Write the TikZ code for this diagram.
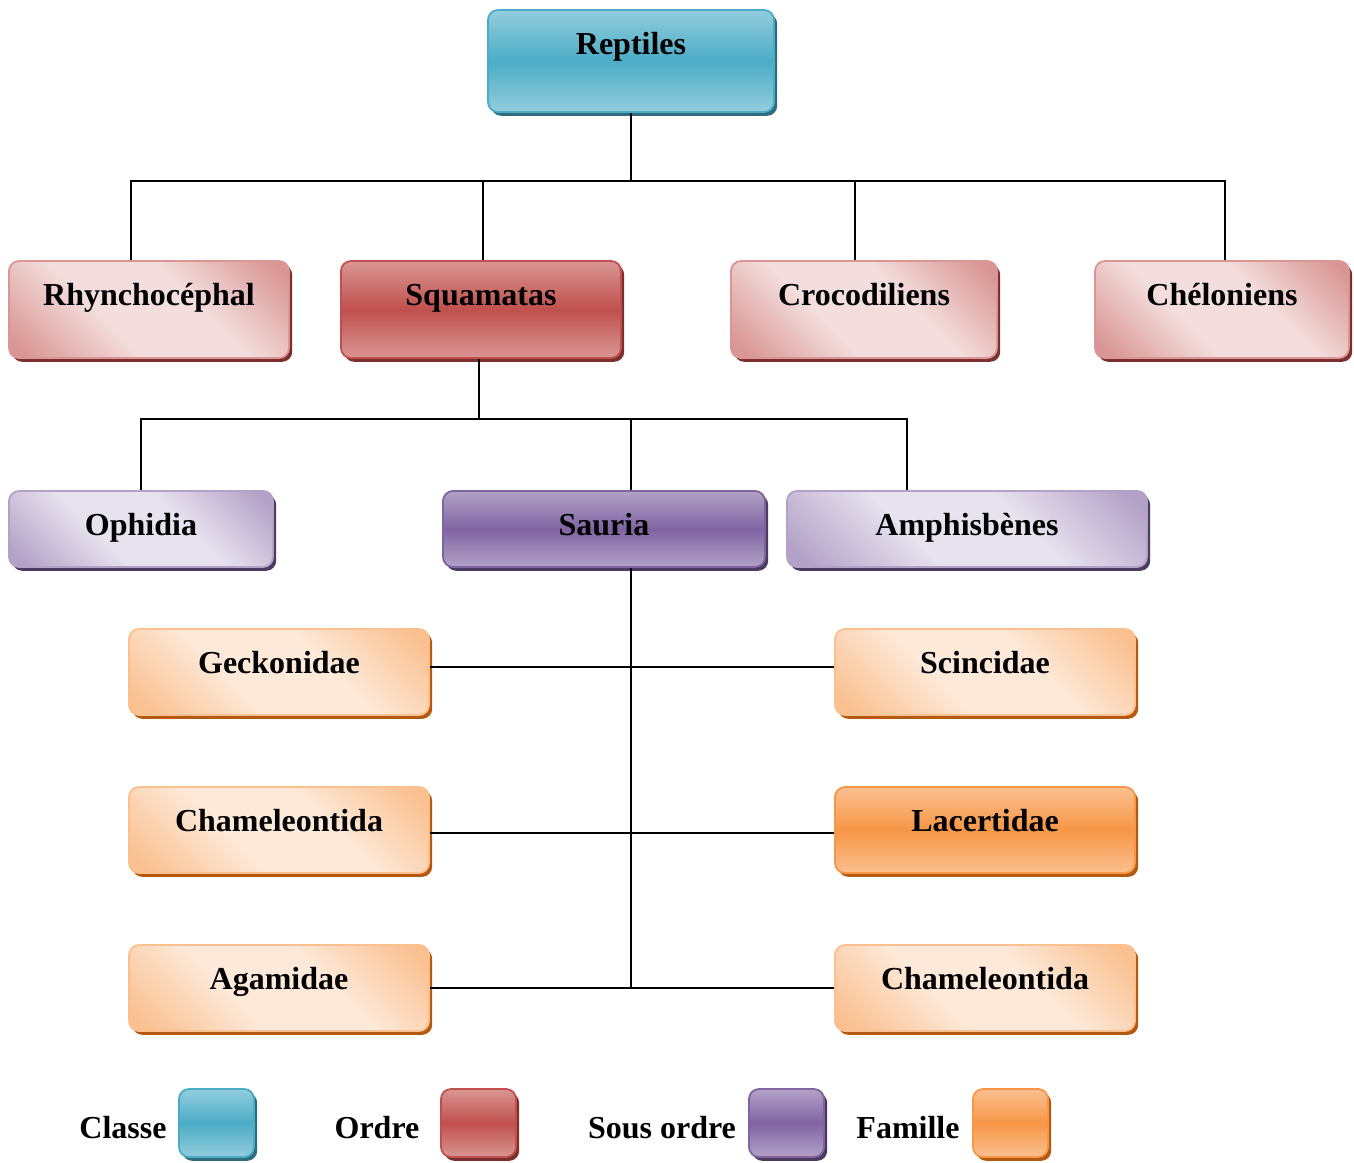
\documentclass[tikz,border=0pt]{standalone}
\usepackage{fontspec}
\setmainfont{Liberation Serif}
\usetikzlibrary{shadows}
\definecolor{classmid}{HTML}{4BACC6}
\definecolor{classlight}{HTML}{93CDDD}
\definecolor{classshadow}{HTML}{2F6C7D}
\definecolor{ordremid}{HTML}{C0504D}
\definecolor{ordrelight}{HTML}{D99694}
\definecolor{ordrepale}{HTML}{F3DEDD}
\definecolor{ordreshadow}{HTML}{7B302E}
\definecolor{sousmid}{HTML}{8064A2}
\definecolor{souslight}{HTML}{B3A2C7}
\definecolor{souspale}{HTML}{E7E2EE}
\definecolor{sousshadow}{HTML}{4B3A62}
\definecolor{famimid}{HTML}{F79646}
\definecolor{famlight}{HTML}{FAC090}
\definecolor{fampale}{HTML}{FDE9D9}
\definecolor{famshadow}{HTML}{B35A10}

% diagonal band: darker corners, pale middle
\pgfdeclareverticalshading{ordreband}{100bp}{color(0bp)=(ordrelight); color(18bp)=(ordrelight); color(40bp)=(ordrepale); color(60bp)=(ordrepale); color(82bp)=(ordrelight); color(100bp)=(ordrelight)}
\pgfdeclareverticalshading{sousband}{100bp}{color(0bp)=(souslight); color(18bp)=(souslight); color(40bp)=(souspale); color(60bp)=(souspale); color(82bp)=(souslight); color(100bp)=(souslight)}
\pgfdeclareverticalshading{famband}{100bp}{color(0bp)=(famlight); color(18bp)=(famlight); color(40bp)=(fampale); color(60bp)=(fampale); color(82bp)=(famlight); color(100bp)=(famlight)}

\begin{document}
\begin{tikzpicture}[
    x=0.5pt, y=-0.5pt,
    font=\fontsize{16}{19}\selectfont\bfseries,
    link/.style={black, line width=0.8pt},
    box/.style={rectangle, rounded corners=5pt, inner sep=0pt, text height=22pt, line width=0.9pt, align=center},
    % full colour boxes: light - mid - light, top to bottom
    classbox/.style={box, draw=classmid, top color=classlight, bottom color=classlight, middle color=classmid,
        drop shadow={shadow xshift=1.6pt, shadow yshift=-1.9pt, fill=classshadow, opacity=1}},
    ordrebox/.style={box, draw=ordremid, top color=ordrelight, bottom color=ordrelight, middle color=ordremid,
        drop shadow={shadow xshift=1.6pt, shadow yshift=-1.9pt, fill=ordreshadow, opacity=1}},
    sousbox/.style={box, draw=sousmid, top color=souslight, bottom color=souslight, middle color=sousmid,
        drop shadow={shadow xshift=1.6pt, shadow yshift=-1.9pt, fill=sousshadow, opacity=1}},
    fambox/.style={box, draw=famimid, top color=famlight, bottom color=famlight, middle color=famimid,
        drop shadow={shadow xshift=1.6pt, shadow yshift=-1.9pt, fill=famshadow, opacity=1}},
    % pale boxes: diagonal light band
    ordrepalebox/.style={box, draw=ordrelight, shade, shading=ordreband, shading angle=-45,
        drop shadow={shadow xshift=1.6pt, shadow yshift=-1.9pt, fill=ordreshadow, opacity=1}},
    souspalebox/.style={box, draw=souslight, shade, shading=sousband, shading angle=-45,
        drop shadow={shadow xshift=1.6pt, shadow yshift=-1.9pt, fill=sousshadow, opacity=1}},
    fampalebox/.style={box, draw=famlight, shade, shading=famband, shading angle=-45,
        drop shadow={shadow xshift=1.6pt, shadow yshift=-1.9pt, fill=famshadow, opacity=1}},
    % heights of each level
    lvclasse/.style={text depth=29pt},
    lvordre/.style={text depth=26.5pt},
    lvsous/.style={text depth=16pt},
    lvfam/.style={text depth=21pt, minimum width=150pt},
    keybox/.style={minimum width=37.5pt, minimum height=34pt, text height=0pt, text depth=0pt},
    keytext/.style={anchor=base, inner sep=0pt}
]
\useasboundingbox (0,0) rectangle (1354,1162);

% -------- class --------
\node[classbox, lvclasse, minimum width=143pt] (reptiles) at (631,61) {Reptiles};

% -------- orders --------
\node[ordrepalebox, lvordre, minimum width=140pt] (rhyncho) at (149,309.5) {Rhynchocéphal};
\node[ordrebox, lvordre, minimum width=140pt] (squam) at (481,309.5) {Squamatas};
\node[ordrepalebox, lvordre, minimum width=133pt] (croco) at (864,309.5) {Crocodiliens};
\node[ordrepalebox, lvordre, minimum width=127pt] (chelo) at (1222,309.5) {Chéloniens};

% -------- sub-orders --------
\node[souspalebox, lvsous, minimum width=132pt] (ophidia) at (141,529) {Ophidia};
\node[sousbox, lvsous, minimum width=161pt] (sauria) at (604,529) {Sauria};
\node[souspalebox, lvsous, minimum width=180pt] (amphis) at (967,529) {Amphisbènes};

% -------- families --------
\node[fampalebox, lvfam] (gecko) at (279,672) {Geckonidae};
\node[fampalebox, lvfam] (scinc) at (985,672) {Scincidae};
\node[fampalebox, lvfam] (chamleft) at (279,830) {Chameleontida};
\node[fambox, lvfam] (lacert) at (985,830) {Lacertidae};
\node[fampalebox, lvfam] (agam) at (279,988) {Agamidae};
\node[fampalebox, lvfam] (chamright) at (985,988) {Chameleontida};

% -------- links --------
\coordinate (busone) at (631,181);
\coordinate (bustwo) at (479,419);
\draw[link] (reptiles.south) -- (busone);
\draw[link] ([xshift=-9pt]rhyncho.north) |- (busone);
\draw[link] ([xshift=1pt]squam.north) |- (busone);
\draw[link] ([xshift=-4.5pt]croco.north) |- (busone);
\draw[link] ([xshift=1.5pt]chelo.north) |- (busone);

\draw[link] ([xshift=-1pt]squam.south) -- (bustwo);
\draw[link] (ophidia.north) |- (bustwo);
\draw[link] ([xshift=13.5pt]sauria.north) |- (bustwo);
\draw[link] ([xshift=-30pt]amphis.north) |- (bustwo);

\draw[link] ([xshift=13.5pt]sauria.south) -- ([xshift=13.5pt]sauria.south |- agam.east);
\draw[link] ([yshift=2.5pt]gecko.east) -- ([yshift=2.5pt]scinc.west);
\draw[link] ([yshift=-1.5pt]chamleft.east) -- ([yshift=-1.5pt]lacert.west);
\draw[link] (agam.east) -- (chamright.west);

% -------- legend --------
\node[keytext] (tclasse) at (123,1138) {Classe};
\node[classbox, keybox] (kclasse) at (216.5,1123) {};
\node[keytext] (tordre) at (377,1138) {Ordre};
\node[ordrebox, keybox] (kordre) at (478.5,1123) {};
\node[keytext] (tsous) at (662,1138) {Sous ordre};
\node[sousbox, keybox] (ksous) at (786.5,1123) {};
\node[keytext] (tfam) at (908,1138) {Famille};
\node[fambox, keybox] (kfam) at (1010.5,1123) {};
\end{tikzpicture}
\end{document}
